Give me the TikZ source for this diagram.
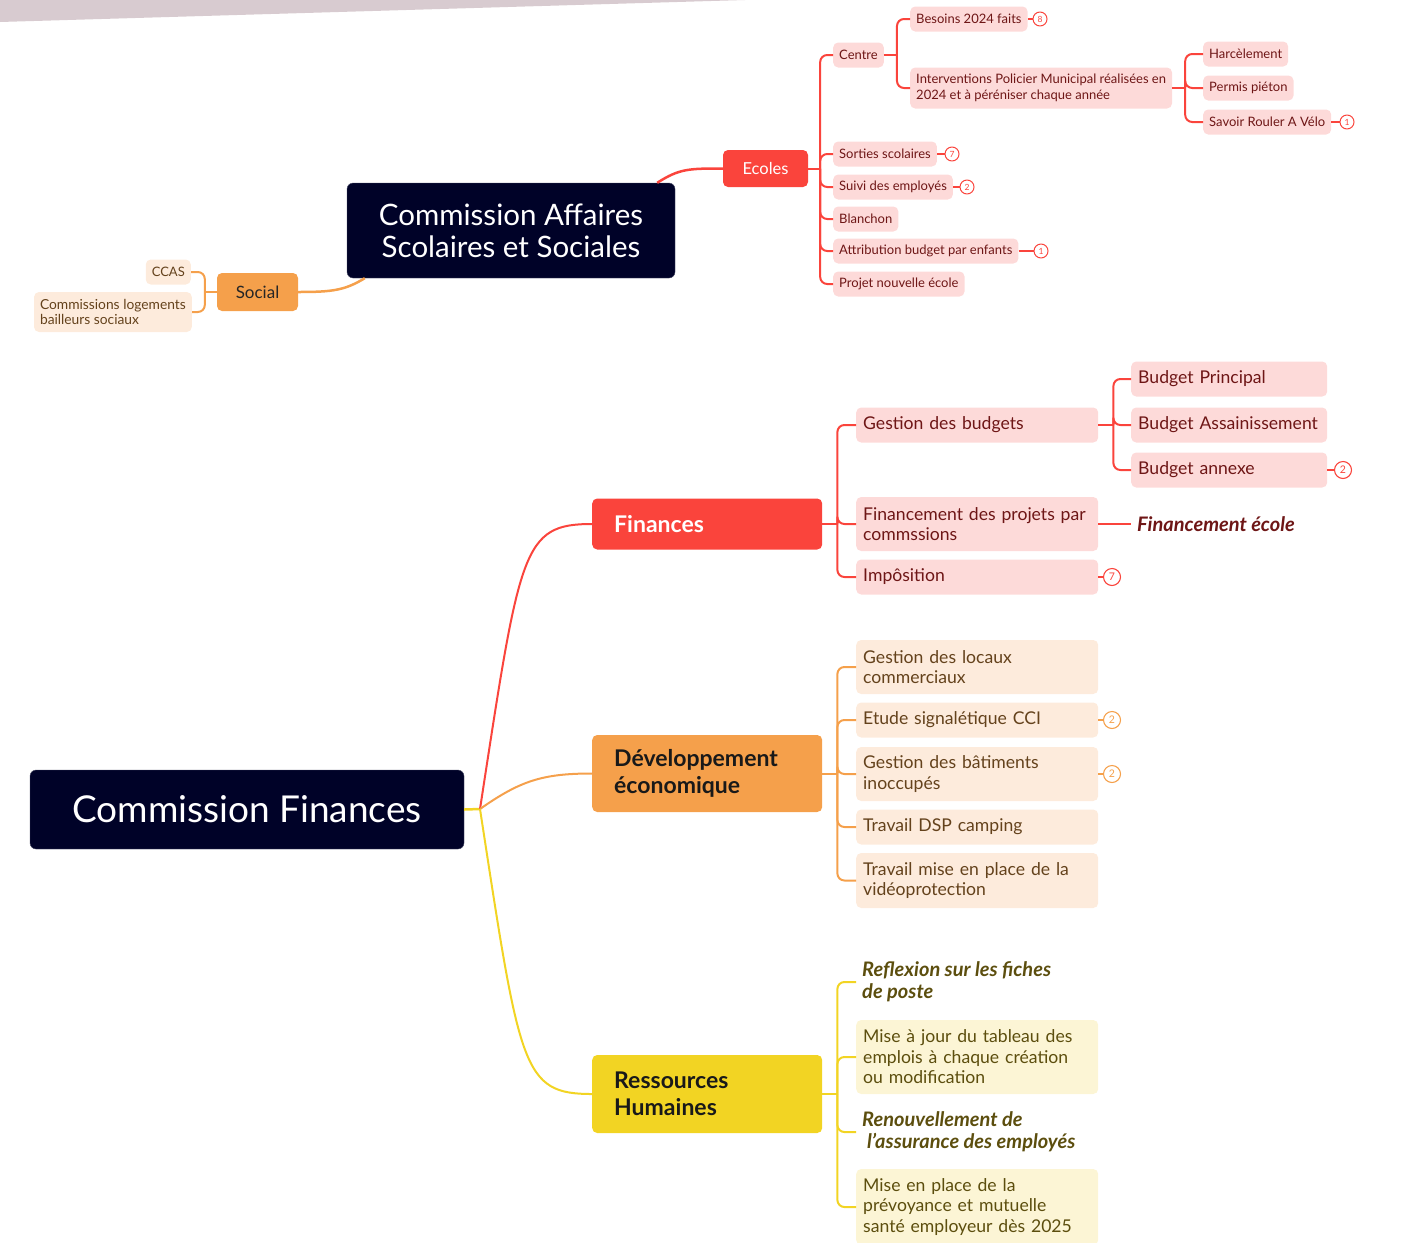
\documentclass[tikz,border=0pt]{standalone}
\usepackage{fontspec}
\setmainfont{Lato}
\usepackage{tikz}

\definecolor{navy}{RGB}{0,2,40}
\definecolor{redmain}{RGB}{250,68,60}
\definecolor{redlight}{RGB}{253,218,217}
\definecolor{redtext}{RGB}{110,22,22}
\definecolor{orangemain}{RGB}{245,160,75}
\definecolor{orangelight}{RGB}{253,235,220}
\definecolor{browntext}{RGB}{100,66,28}
\definecolor{yellowmain}{RGB}{242,212,35}
\definecolor{yellowlight}{RGB}{252,245,213}
\definecolor{olivetext}{RGB}{92,78,14}
\definecolor{bandgrey}{RGB}{216,203,208}

\begin{document}
\begin{tikzpicture}
[x=1pt,y=-1pt,line join=round,
	 central/.style={fill=navy,draw=navy!70,text=white,rounded corners=6pt,align=center,inner sep=0pt},
	 branch/.style={rounded corners=5pt,anchor=west,align=left,inner xsep=22pt,inner ysep=0pt,minimum width=230pt,text width=186pt,font=\bfseries\fontsize{23}{27}\selectfont},
	 redleaf/.style={fill=redlight,text=redtext,rounded corners=5pt,anchor=west,align=left},
	 orangeleaf/.style={fill=orangelight,text=browntext,rounded corners=5pt,align=left},
	 yellowleaf/.style={fill=yellowlight,text=olivetext,rounded corners=5pt,anchor=west,align=left},
	 small/.style={font=\fontsize{13}{15.5}\selectfont,inner xsep=6pt,inner ysep=0pt,minimum height=25pt},
	 wide/.style={font=\fontsize{17.6}{20.5}\selectfont,inner xsep=7pt,inner ysep=0pt,text width=228pt,minimum height=35pt},
	 note/.style={anchor=west,align=left,inner xsep=6pt,font=\bfseries\itshape\fontsize{20}{22}\selectfont},
	 badge/.style={circle,draw,fill=white,line width=1.1pt,inner sep=0pt,minimum size=17pt,font=\fontsize{10.5}{10.5}\selectfont},
	 smallbadge/.style={circle,draw,fill=white,line width=1pt,inner sep=0pt,minimum size=14pt,font=\fontsize{8.5}{8.5}\selectfont},
	 redlink/.style={draw=redmain,line width=2pt},
	 orangelink/.style={draw=orangemain,line width=2pt},
	 yellowlink/.style={draw=yellowmain,line width=2pt},
	 fork/.style={rounded corners=7pt}];
\useasboundingbox (0,0) rectangle (1412,1242);
\fill[bandgrey] (0,0) -- (745,0) -- (0,22) -- cycle;

\node[central,minimum width=328pt,minimum height=95pt,font=\fontsize{29.5}{32}\selectfont] (cass) at (511,230.5) {Commission Affaires\\Scolaires et Sociales};
\node[fill=redmain,text=white,rounded corners=5pt,minimum width=85pt,minimum height=37pt,inner sep=0pt,font=\fontsize{16.5}{20}\selectfont] (ecoles) at (765.5,168.5) {Ecoles};
\node[fill=orangemain,text=black!85,rounded corners=5pt,minimum width=81pt,minimum height=38pt,inner sep=0pt,font=\fontsize{17}{20}\selectfont] (social) at (257.5,292) {Social};

\node[redleaf,small] (centre) at (833,55) {Centre};
\node[redleaf,small] (sorties) at (833,154) {Sorties scolaires};
\node[redleaf,small] (suivi) at (833,187) {Suivi des employés};
\node[redleaf,small] (blanchon) at (833,219) {Blanchon};
\node[redleaf,small] (attrib) at (833,251) {Attribution budget par enfants};
\node[redleaf,small] (projet) at (833,284) {Projet nouvelle école};
\node[redleaf,small] (besoins) at (910,19) {Besoins 2024 faits};
\node[redleaf,small,minimum height=41pt] (interv) at (910,88) {Interventions Policier Municipal réalisées en\\2024 et à péréniser chaque année};
\node[redleaf,small] (harcel) at (1203,54) {Harcèlement};
\node[redleaf,small] (permis) at (1203,88) {Permis piéton};
\node[redleaf,small] (savoir) at (1203,122) {Savoir Rouler A Vélo};

\node[smallbadge,draw=redmain,text=redmain] (besoinsnb) at (1040,19) {8};
\node[smallbadge,draw=redmain,text=redmain] (sortiesnb) at (952,154) {7};
\node[smallbadge,draw=redmain,text=redmain] (suivinb) at (967,187) {2};
\node[smallbadge,draw=redmain,text=redmain] (attribnb) at (1041,251) {1};
\node[smallbadge,draw=redmain,text=redmain] (savoirnb) at (1347,122) {1};

\node[orangeleaf,small,anchor=east] (ccas) at (191,272) {CCAS};
\node[orangeleaf,small,anchor=east,minimum height=40pt,font=\fontsize{13.8}{15.5}\selectfont] (logements) at (192,312) {Commissions logements\\bailleurs sociaux};

\draw[redlink,line width=2.5pt] ([xshift=-18pt]cass.north east) .. controls +(22,-14) and +(-35,0) .. (ecoles.west);
\draw[orangelink,line width=2.5pt] ([xshift=18pt]cass.south west) .. controls +(-20,12) and +(35,0) .. (social.east);

\draw[redlink] (ecoles.east) -- ++(12,0) coordinate (ecfork);
\foreach \n in {centre,sorties,suivi,blanchon,attrib,projet}
  \draw[redlink,fork] (ecfork) |- (\n.west);
\draw[redlink] (centre.east) -- ++(13,0) coordinate (cefork);
\foreach \n in {besoins,interv}
  \draw[redlink,fork] (cefork) |- (\n.west);
\draw[redlink] (interv.east) -- ++(13,0) coordinate (infork);
\foreach \n in {harcel,permis,savoir}
  \draw[redlink,fork] (infork) |- (\n.west);
\draw[orangelink] (social.west) -- ++(-12,0) coordinate (sofork);
\foreach \n in {ccas,logements}
  \draw[orangelink,fork] (sofork) |- (\n.east);
\foreach \n in {besoins,sorties,suivi,attrib,savoir}
  \draw[redlink,line width=1.3pt] (\n.east) -- (\n nb.west);

\node[central,minimum width=434pt,minimum height=79pt,font=\fontsize{37}{40}\selectfont] (cfin) at (247,809.5) {Commission Finances};
\coordinate (hub) at (480,809);
\node[branch,fill=redmain,text=white,minimum height=51pt] (finances) at (592,524) {Finances};
\node[branch,fill=orangemain,text=black!90,minimum height=77pt] (dev) at (592,773.5) {Développement\\économique};
\node[branch,fill=yellowmain,text=black!90,minimum height=78pt] (rh) at (592,1094) {Ressources\\Humaines};

\node[redleaf,wide] (gestbud) at (856,425) {Gestion des budgets};
\node[redleaf,wide,minimum height=54pt] (financement) at (856,524) {Financement des projets par\\commssions};
\node[redleaf,wide] (imposition) at (856,577) {Impôsition};
\node[redleaf,wide,text width=182pt] (bprincipal) at (1131,379) {Budget Principal};
\node[redleaf,wide,text width=182pt] (bassain) at (1131,425) {Budget Assainissement};
\node[redleaf,wide,text width=182pt] (bannexe) at (1131,470) {Budget annexe};
\node[note,text=redtext] (fecole) at (1131,524) {Financement école};
\node[badge,draw=redmain,text=redmain] (bannexenb) at (1343,470) {2};
\node[badge,draw=redmain,text=redmain] (impositionnb) at (1112,577) {7};

\node[orangeleaf,wide,anchor=west,minimum height=54pt] (locaux) at (856,667) {Gestion des locaux\\commerciaux};
\node[orangeleaf,wide,anchor=west] (etude) at (856,720) {Etude signalétique CCI};
\node[orangeleaf,wide,anchor=west,minimum height=54pt] (batiments) at (856,774) {Gestion des bâtiments\\inoccupés};
\node[orangeleaf,wide,anchor=west] (dsp) at (856,827) {Travail DSP camping};
\node[orangeleaf,wide,anchor=west,minimum height=55pt] (video) at (856,880.5) {Travail mise en place de la\\vidéoprotection};
\node[badge,draw=orangemain,text=orangemain] (etudenb) at (1112,720) {2};
\node[badge,draw=orangemain,text=orangemain] (batimentsnb) at (1112,774) {2};

\node[note,text=olivetext] (reflexion) at (856,982) {Reflexion sur les fiches\\de poste};
\node[yellowleaf,wide,minimum height=74pt] (majtab) at (856,1057) {Mise à jour du tableau des\\emplois à chaque création\\ou modification};
\node[note,text=olivetext] (renouv) at (856,1132) {Renouvellement de\\\hspace{0.25em}l'assurance des employés};
\node[yellowleaf,wide,minimum height=76pt] (prevoyance) at (856,1207) {Mise en place de la\\prévoyance et mutuelle\\santé employeur dès 2025};

\draw[yellowlink,line width=2.5pt] (cfin.east) -- (hub);
\draw[redlink] (hub) .. controls +(40,-260) and +(-70,0) .. (finances.west);
\draw[orangelink] (hub) .. controls +(40,-28) and +(-50,0) .. (dev.west);
\draw[yellowlink] (hub) .. controls +(40,260) and +(-70,0) .. (rh.west);

\draw[redlink] (finances.east) -- ++(15,0) coordinate (fifork);
\foreach \n in {gestbud,financement,imposition}
  \draw[redlink,fork] (fifork) |- (\n.west);
\draw[redlink] (gestbud.east) -- ++(15,0) coordinate (gbfork);
\foreach \n in {bprincipal,bassain,bannexe}
  \draw[redlink,fork] (gbfork) |- (\n.west);
\draw[redlink] (financement.east) -- (fecole.west);
\draw[orangelink] (dev.east) -- ++(15,0) coordinate (dvfork);
\foreach \n in {locaux,etude,batiments,dsp,video}
  \draw[orangelink,fork] (dvfork) |- (\n.west);
\draw[yellowlink] (rh.east) -- ++(15,0) coordinate (rhfork);
\foreach \n in {reflexion,majtab,renouv,prevoyance}
  \draw[yellowlink,fork] (rhfork) |- (\n.west);
\foreach \n in {bannexe,imposition}
  \draw[redlink,line width=1.3pt] (\n.east) -- (\n nb.west);
\foreach \n in {etude,batiments}
  \draw[orangelink,line width=1.3pt] (\n.east) -- (\n nb.west);

\end{tikzpicture}
\end{document}
